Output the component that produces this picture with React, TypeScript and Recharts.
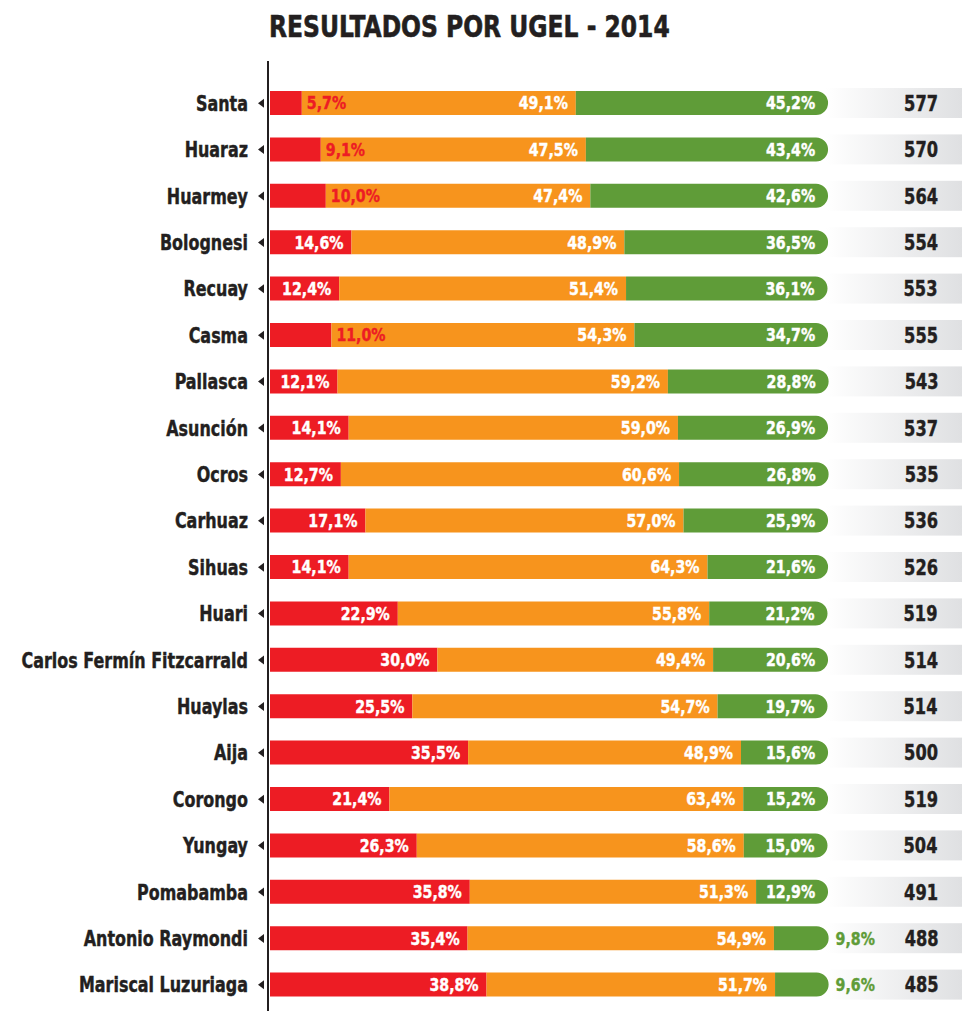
import { BarChart, Bar, XAxis, YAxis, LabelList } from 'recharts';

// UGEL names, top to bottom
const ugels = [
  'Santa', 'Huaraz', 'Huarmey', 'Bolognesi', 'Recuay', 'Casma', 'Pallasca', 'Asunción',
  'Ocros', 'Carhuaz', 'Sihuas', 'Huari', 'Carlos Fermín Fitzcarrald', 'Huaylas', 'Aija',
  'Corongo', 'Yungay', 'Pomabamba', 'Antonio Raymondi', 'Mariscal Luzuriaga',
];

// % por nivel de logro
const enInicio = [5.7, 9.1, 10.0, 14.6, 12.4, 11.0, 12.1, 14.1, 12.7, 17.1, 14.1, 22.9, 30.0, 25.5, 35.5, 21.4, 26.3, 35.8, 35.4, 38.8];
const enProceso = [49.1, 47.5, 47.4, 48.9, 51.4, 54.3, 59.2, 59.0, 60.6, 57.0, 64.3, 55.8, 49.4, 54.7, 48.9, 63.4, 58.6, 51.3, 54.9, 51.7];
const satisfactorio = [45.2, 43.4, 42.6, 36.5, 36.1, 34.7, 28.8, 26.9, 26.8, 25.9, 21.6, 21.2, 20.6, 19.7, 15.6, 15.2, 15.0, 12.9, 9.8, 9.6];

// puntaje promedio
const puntaje = [577, 570, 564, 554, 553, 555, 543, 537, 535, 536, 526, 519, 514, 514, 500, 519, 504, 491, 488, 485];

const data = ugels.map((name, i) => ({
  name,
  inicio: enInicio[i],
  proceso: enProceso[i],
  satisf: satisfactorio[i],
  puntaje: puntaje[i],
}));

const FONT = '"DejaVu Sans Condensed", "DejaVu Sans", sans-serif';
const DARK = '#231f20';
const RED = '#ed1c24';
const ORANGE = '#f7941d';
const GREEN = '#5f9c38';

const fmt = (v: number) => v.toFixed(1).replace('.', ',') + '%';

// condensed bold text, squeezed horizontally to look like the narrow face
const Squeezed = ({ x, y, anchor, sx, size, fill, children }: any) => (
  <text
    transform={`translate(${x},${y}) scale(${sx},1)`}
    textAnchor={anchor}
    fill={fill}
    stroke={fill}
    strokeWidth={0.4}
    style={{ fontFamily: FONT, fontWeight: 'bold', fontSize: size }}
  >
    {children}
  </text>
);

const PCT_SIZE = 17.5;
const PCT_SX = 0.9;

const RedLabel = (props: any) => {
  const { x, y, width, height, value } = props;
  const cy = y + height / 2 + 6.3;
  if (value >= 12) {
    return <Squeezed x={x + width - 8} y={cy} anchor="end" sx={PCT_SX} size={PCT_SIZE} fill="#fff">{fmt(value)}</Squeezed>;
  }
  return <Squeezed x={x + width + 5} y={cy} anchor="start" sx={PCT_SX} size={PCT_SIZE} fill={RED}>{fmt(value)}</Squeezed>;
};

const OrangeLabel = (props: any) => {
  const { x, y, width, height, value } = props;
  return (
    <Squeezed x={x + width - 8} y={y + height / 2 + 6.3} anchor="end" sx={PCT_SX} size={PCT_SIZE} fill="#fff">
      {fmt(value)}
    </Squeezed>
  );
};

const GreenLabel = (props: any) => {
  const { x, y, width, height, value } = props;
  const cy = y + height / 2 + 6.3;
  if (value >= 10) {
    return <Squeezed x={x + width - 13} y={cy} anchor="end" sx={PCT_SX} size={PCT_SIZE} fill="#fff">{fmt(value)}</Squeezed>;
  }
  return <Squeezed x={x + width + 7} y={cy} anchor="start" sx={PCT_SX} size={PCT_SIZE} fill={GREEN}>{fmt(value)}</Squeezed>;
};

const ScoreLabel = (props: any) => {
  const { x, y, width, height, value } = props;
  return (
    <Squeezed x={x + width + 93} y={y + height / 2 + 7.7} anchor="middle" sx={0.86} size={21} fill={DARK}>
      {value}
    </Squeezed>
  );
};

const BandBackground = (props: any) => {
  const { x, y, width, height } = props;
  return <rect x={x} y={y - 3} width={width} height={height + 6} fill="url(#bandFade)" />;
};

const UgelTick = (props: any) => {
  const { x, y, payload } = props;
  return (
    <g>
      <Squeezed x={x - 22} y={y + 7.5} anchor="end" sx={0.865} size={20.5} fill={DARK}>
        {payload.value}
      </Squeezed>
      <path d={`M${x - 12},${y} L${x - 6},${y - 4.5} L${x - 6},${y + 4.5} Z`} fill={DARK} />
    </g>
  );
};

export default function App() {
  return (
    <div style={{ position: 'absolute', left: 0, top: 0, width: 975, height: 1011, background: '#fff' }}>
      <div
        style={{
          position: 'absolute',
          left: 269,
          top: 11,
          fontFamily: FONT,
          fontWeight: 'bold',
          fontSize: 31,
          lineHeight: 1,
          color: DARK,
          whiteSpace: 'nowrap',
          transform: 'scaleX(0.84)',
          transformOrigin: 'left top',
          WebkitTextStroke: '0.6px #231f20',
        }}
      >
        RESULTADOS POR UGEL - 2014
      </div>
      <BarChart
        layout="vertical"
        width={975}
        height={1011}
        data={data}
        margin={{ top: 80, right: 13, left: 0, bottom: 3 }}
        barSize={24}
      >
        <defs>
          <linearGradient id="bandFade" gradientUnits="userSpaceOnUse" x1={826} y1={0} x2={962} y2={0}>
            <stop offset="0" stopColor="#ffffff" />
            <stop offset="1" stopColor="#dfe0e2" />
          </linearGradient>
        </defs>
        <XAxis type="number" domain={[0, 124]} hide />
        <YAxis
          type="category"
          dataKey="name"
          width={270}
          axisLine={false}
          tickLine={false}
          tickSize={0}
          tickMargin={0}
          interval={0}
          tick={<UgelTick />}
        />
        <Bar dataKey="inicio" stackId="a" fill={RED} isAnimationActive={false} background={<BandBackground />}>
          <LabelList dataKey="inicio" content={<RedLabel />} />
        </Bar>
        <Bar dataKey="proceso" stackId="a" fill={ORANGE} isAnimationActive={false}>
          <LabelList dataKey="proceso" content={<OrangeLabel />} />
        </Bar>
        <Bar dataKey="satisf" stackId="a" fill={GREEN} radius={[0, 12, 12, 0]} isAnimationActive={false}>
          <LabelList dataKey="satisf" content={<GreenLabel />} />
          <LabelList dataKey="puntaje" content={<ScoreLabel />} />
        </Bar>
      </BarChart>
      <div style={{ position: 'absolute', left: 267, top: 61, width: 2, height: 950, background: DARK }} />
    </div>
  );
}
